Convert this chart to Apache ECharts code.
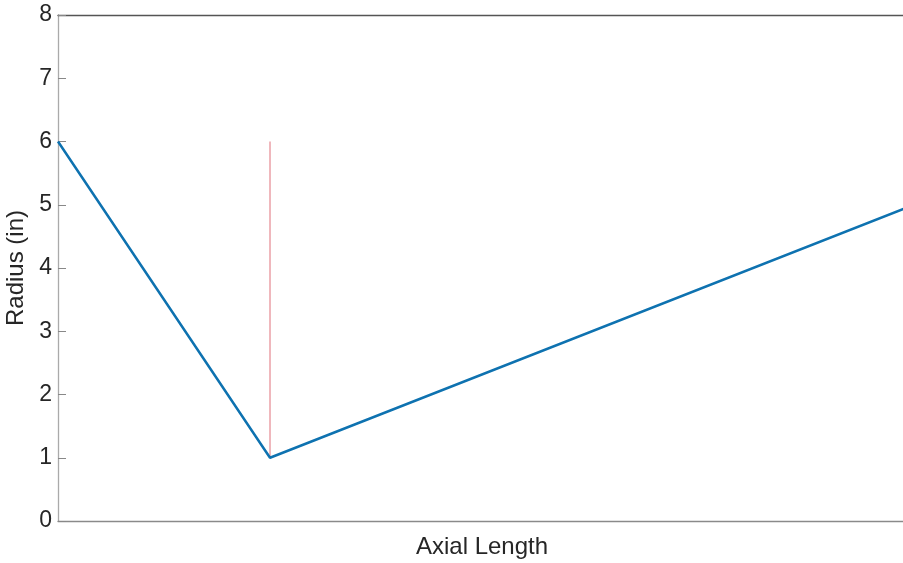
<!DOCTYPE html>
<html><head><meta charset="utf-8">
<script src="https://cdn.jsdelivr.net/npm/echarts@6/dist/echarts.min.js"></script>
<style>html,body{margin:0;padding:0;background:#fff}#c{width:903px;height:563px}</style>
</head><body><div id="c"></div>
<script>
const profileX = [0, 5, 20];
const profileR = [6, 1, 4.95];
const markerX = [5, 5];
const markerR = [1, 6];
const yTicks = [0, 1, 2, 3, 4, 5, 6, 7, 8];

const chart = echarts.init(document.getElementById('c'));
const font = '"Liberation Sans", Arial, sans-serif';
chart.setOption({
  animation: false,
  grid: { left: 58, right: -3, top: 15, bottom: 42, containLabel: false, outerBoundsMode: 'none' },
  xAxis: [{
    type: 'value', min: 0, max: 20,
    name: 'Axial Length', nameLocation: 'middle', nameGap: 14,
    nameTextStyle: { fontFamily: font, fontSize: 24, color: '#262626', verticalAlign: 'top' },
    axisLine: { show: true, lineStyle: { color: '#8a8a8a', width: 1.3 } },
    axisTick: { show: false }, axisLabel: { show: false }, splitLine: { show: false }
  }, {
    type: 'value', min: 0, max: 20, position: 'top',
    axisLine: { show: true, lineStyle: { color: '#555', width: 1.3 } },
    axisTick: { show: false }, axisLabel: { show: false }, splitLine: { show: false }
  }],
  yAxis: {
    type: 'value', min: yTicks[0], max: yTicks[yTicks.length - 1], interval: 1,
    name: 'Radius (in)', nameLocation: 'middle', nameGap: 24, nameRotate: 90,
    nameTextStyle: { fontFamily: font, fontSize: 24, color: '#262626' },
    axisLine: { show: true, lineStyle: { color: '#aaa', width: 1.3 } },
    axisTick: { show: true, inside: true, length: 8, lineStyle: { color: '#888' } },
    axisLabel: { fontFamily: font, fontSize: 23, color: '#262626', margin: 6 },
    splitLine: { show: false }
  },
  series: [{
    type: 'line', data: profileX.map((x, i) => [x, profileR[i]]),
    showSymbol: false, lineStyle: { color: '#0e72b0', width: 2.5 }, z: 3
  }, {
    type: 'line', data: markerX.map((x, i) => [x, markerR[i]]),
    showSymbol: false, lineStyle: { color: '#e0707a', width: 1 }, z: 2
  }]
});
</script></body></html>
